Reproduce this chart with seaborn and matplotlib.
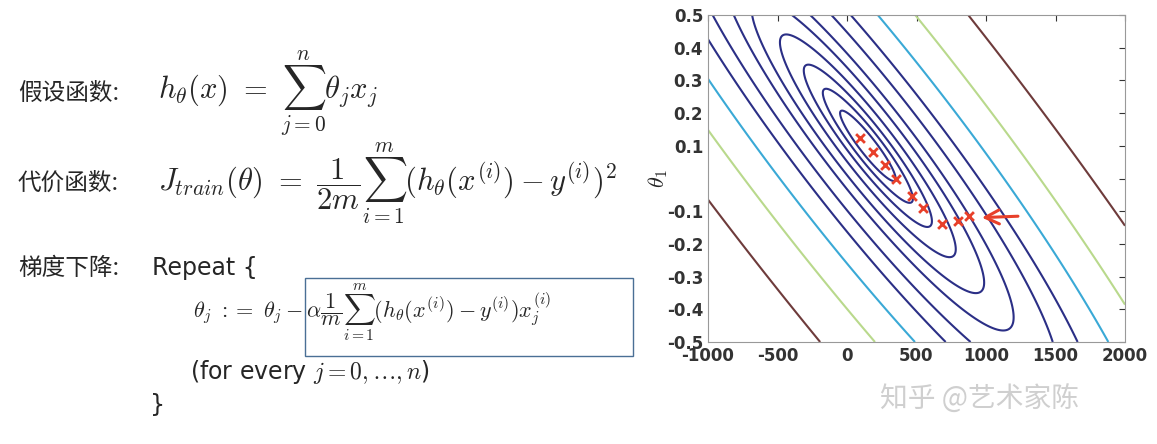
import numpy as np
import matplotlib
matplotlib.use("Agg")
import matplotlib.pyplot as plt
import matplotlib.patches as patches
import seaborn as sns

sns.set_style("white")
plt.rcParams['font.family'] = ['Noto Sans CJK SC', 'DejaVu Sans']
plt.rcParams['mathtext.fontset'] = 'cm'
plt.rcParams['axes.unicode_minus'] = False

# gradient descent steps (theta_0, theta_1)
steps_x = [90, 185, 270, 350, 470, 550, 680, 800, 880]
steps_y = [0.125, 0.08, 0.04, 0.0, -0.055, -0.09, -0.14, -0.13, -0.115]

# cost surface: centre, axis scales, contour levels and colours
centre = [150, 0.1]
tilt = 0.5          # theta_1 change per 1000 of theta_0 along the valley
scales = [0.5, 0.1]
levels = [0.16, 0.42, 0.85, 1.6, 2.8, 4.4, 7.5, 11.5, 19, 33, 60]
level_colors = ['#2b2f86'] * 8 + ['#3aa9d6', '#b9d98c', '#6e3b3b']

xticks = [-1000, -500, 0, 500, 1000, 1500, 2000]
yticks = [-0.5, -0.4, -0.3, -0.2, -0.1, 0, 0.1, 0.2, 0.3, 0.4, 0.5]
ytick_labels = ['-0.5', '-0.4', '-0.3', '-0.2', '-0.1', '', '0.1', '0.2', '0.3', '0.4', '0.5']

fig = plt.figure(figsize=(11.57, 4.44), dpi=100)

# left side: formulas
W, H = 1157, 444
def put(x, y, s, size=18, **kw):
    fig.text(x / W, 1 - y / H, s, fontsize=size, va='center', ha='left', **kw)

put(18, 93, '假设函数:', 17)
put(158, 93, r'$h_\theta(x)\ =\ \sum_{j=0}^{n}\theta_j x_j$', 22)
put(18, 183, '代价函数:', 17)
put(158, 183, r'$J_{train}(\theta)\ =\ \dfrac{1}{2m}\sum_{i=1}^{m}(h_\theta(x^{(i)}) - y^{(i)})^2$', 22)
put(18, 268, '梯度下降:', 17)
put(152, 268, 'Repeat {', 17, family=['DejaVu Sans'])
put(193, 312, r'$\theta_j\ :=\ \theta_j - \alpha\dfrac{1}{m}\sum_{i=1}^{m}(h_\theta(x^{(i)}) - y^{(i)})x_j^{(i)}$', 16)
put(190, 372, r'(for every $j = 0,\ldots,n$)', 17, family=['DejaVu Sans'])
put(150, 405, '}', 17, family=['DejaVu Sans'])
fig.patches.append(patches.Rectangle((305 / W, 1 - 356 / H), 328 / W, 78 / H,
                                     transform=fig.transFigure, fill=False,
                                     edgecolor='#4a6f95', linewidth=1))

# right side: contour plot
ax = fig.add_axes([708 / W, 1 - 342 / H, 417 / W, 327 / H])
gx = np.linspace(-1000, 2000, 400)
gy = np.linspace(-0.5, 0.5, 400)
X, Y = np.meshgrid(gx, gy)
du = (X - centre[0]) / 1000
dw = (Y - centre[1]) + tilt * du
J = (du / scales[0]) ** 2 + (dw / scales[1]) ** 2
ax.contour(X, Y, J, levels=levels, colors=level_colors, linewidths=1.5)

sns.scatterplot(x=steps_x, y=steps_y, marker='x', color='#e8402a', s=40,
                linewidth=2, ax=ax, zorder=5)
ax.annotate('', xy=(950, -0.12), xytext=(1250, -0.115),
            arrowprops=dict(arrowstyle='->', color='#e8402a', lw=2.2, mutation_scale=25))

ax.set_xlim(-1000, 2000)
ax.set_ylim(-0.5, 0.5)
ax.set_xticks(xticks)
ax.set_yticks(yticks)
ax.set_yticklabels(ytick_labels)
ax.tick_params(direction='in', top=True, right=True, labelsize=12, colors='#333333',
               length=4)
for lab in ax.get_xticklabels() + ax.get_yticklabels():
    lab.set_fontweight('bold')
    lab.set_family('DejaVu Sans')
ax.set_ylabel(r'$\theta_1$', fontsize=16, labelpad=-2)
for s in ax.spines.values():
    s.set_color('#999999')

put(880, 400, '知乎 @艺术家陈', 20, color='#cfcfcf')

fig.savefig('out.png', dpi=100)
